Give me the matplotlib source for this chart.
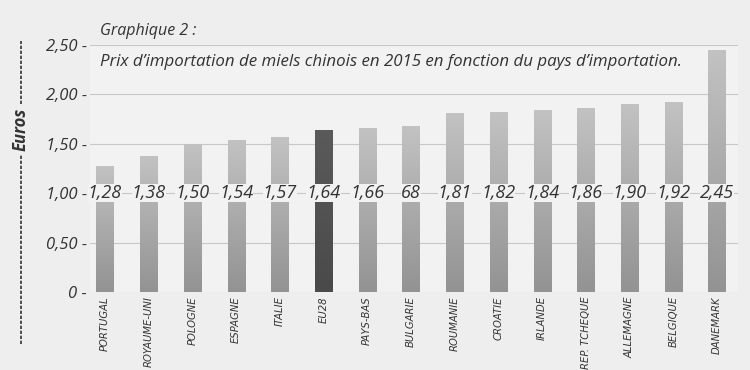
import matplotlib
matplotlib.use("Agg")
import matplotlib.pyplot as plt
from matplotlib import font_manager
import numpy as np
from matplotlib.lines import Line2D

# data
pays = ["PORTUGAL", "ROYAUME-UNI", "POLOGNE", "ESPAGNE", "ITALIE", "EU28",
        "PAYS-BAS", "BULGARIE", "ROUMANIE", "CROATIE", "IRLANDE",
        "REP. TCHEQUE", "ALLEMAGNE", "BELGIQUE", "DANEMARK"]
prix = [1.28, 1.38, 1.50, 1.54, 1.57, 1.64, 1.66, 1.68, 1.81, 1.82, 1.84,
        1.86, 1.90, 1.92, 2.45]
etiquettes = ["1,28", "1,38", "1,50", "1,54", "1,57", "1,64", "1,66", "68",
              "1,81", "1,82", "1,84", "1,86", "1,90", "1,92", "2,45"]
yticks = [0, 0.5, 1.0, 1.5, 2.0, 2.5]
ytick_labels = ["0 -", "0,50 -", "1,00 -", "1,50 -", "2,00 -", "2,50 -"]

fond = "#eeeeee"
txt = "#333333"

# pick a narrow font for the country names if one is installed
noms = {(f.name, f.stretch) for f in font_manager.fontManager.ttflist}
if any(n == "Liberation Sans Narrow" for n, s in noms):
    cat_font = dict(family=["Liberation Sans Narrow", "DejaVu Sans"], fontsize=9)
elif ("DejaVu Sans", "condensed") in noms or ("DejaVu Sans", 500) in noms:
    cat_font = dict(family=["DejaVu Sans"], fontstretch="condensed", fontsize=8)
else:
    cat_font = dict(family=["Liberation Sans", "DejaVu Sans"], fontsize=7.5)

fig = plt.figure(figsize=(7.5, 3.7), dpi=100, facecolor=fond)
ax = fig.add_axes([0.12, 0.211, 0.864, 0.667])
ax.set_facecolor("#f2f2f2")

x = np.arange(len(pays))
bars = ax.bar(x, prix, width=0.39, color="#a8a8a8", zorder=2)

# vertical gradient inside each bar (lighter at the top)
grad = np.linspace(0, 1, 100).reshape(-1, 1)
for i, b in enumerate(bars):
    if pays[i] == "EU28":
        cmap = matplotlib.colors.LinearSegmentedColormap.from_list("d", ["#4a4a4a", "#5a5a5a"])
    else:
        cmap = matplotlib.colors.LinearSegmentedColormap.from_list("g", ["#939393", "#c2c2c2"])
    x0 = b.get_x()
    im = ax.imshow(grad, cmap=cmap, aspect="auto", origin="lower",
                   extent=(x0, x0 + b.get_width(), 0, b.get_height()), zorder=2)
    im.set_clip_path(b)

ax.set_xlim(-0.34, 14.48)
ax.set_ylim(0, 2.5)

ax.set_yticks(yticks)
ax.set_yticklabels(ytick_labels, fontstyle="italic", fontsize=12,
                   family=["Open Sans", "DejaVu Sans"], color=txt)
ax.tick_params(axis="y", length=0, pad=2)
ax.grid(axis="y", color="#c8c8c8", lw=0.8, zorder=0)

ax.set_xticks(x)
ax.set_xticklabels(pays, rotation=90, fontstyle="italic", color=txt, **cat_font)
ax.tick_params(axis="x", length=0, pad=3)

for s in ax.spines.values():
    s.set_visible(False)

# value labels sitting on the 1,00 line
for xi, lab in zip(x, etiquettes):
    ax.text(xi, 1.0, lab, ha="center", va="center", fontsize=13,
            fontstyle="italic", family=["Open Sans", "DejaVu Sans"], color=txt,
            zorder=3,
            bbox=dict(boxstyle="square,pad=0.0", fc="#f2f2f2", ec="none"))

fig.text(0.133, 0.915, "Graphique 2 :", fontsize=11.5, fontstyle="italic",
         family=["Open Sans", "DejaVu Sans"], color=txt, va="center")
fig.text(0.133, 0.832,
         "Prix d\u2019importation de miels chinois en 2015 en fonction du pays d\u2019importation.",
         fontsize=12.2, fontstyle="italic", family=["Open Sans", "DejaVu Sans"],
         color=txt, va="center")

# "Euros" axis title with dashed rules above and below
fig.text(0.028, 0.65, "Euros", rotation=90, fontsize=12, fontstyle="italic",
         fontweight="bold", family=["Open Sans", "DejaVu Sans"], color=txt,
         ha="center", va="center")
fig.add_artist(Line2D([0.028, 0.028], [0.07, 0.58], color=txt, lw=1.2,
                      ls=(0, (2, 1)), transform=fig.transFigure))
fig.add_artist(Line2D([0.028, 0.028], [0.72, 0.89], color=txt, lw=1.2,
                      ls=(0, (2, 1)), transform=fig.transFigure))

fig.savefig("out.png", dpi=100, facecolor=fond)
